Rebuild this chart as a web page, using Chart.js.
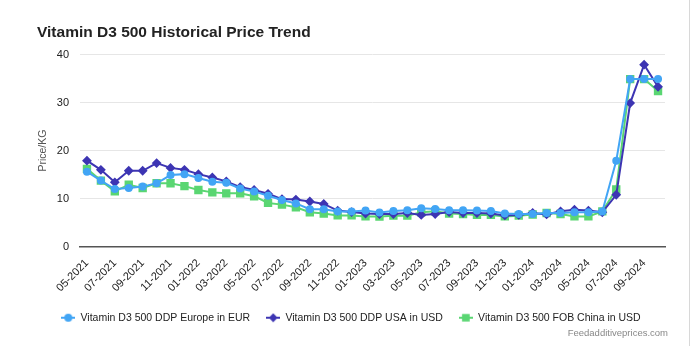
<!DOCTYPE html>
<html>
<head>
<meta charset="utf-8">
<script src="https://cdn.jsdelivr.net/npm/chart.js@4"></script>
<style>
  html, body { margin: 0; padding: 0; background: #fff; }
  #wrap { position: relative; width: 689px; height: 346px; border-right: 1px solid #d8d8d8; }
  #note {
    position: absolute; right: 21px; top: 327px;
    font: 9.5px "Liberation Sans", Arial, sans-serif; color: #888;
  }
</style>
</head>
<body>
<div id="wrap">
  <canvas id="priceChart" width="689" height="346"></canvas>
  <div id="note">Feedadditiveprices.com</div>
</div>
<script>
const months = [
  "05-2021", "06-2021", "07-2021", "08-2021", "09-2021", "10-2021", "11-2021", "12-2021",
  "01-2022", "02-2022", "03-2022", "04-2022", "05-2022", "06-2022", "07-2022", "08-2022",
  "09-2022", "10-2022", "11-2022", "12-2022", "01-2023", "02-2023", "03-2023", "04-2023",
  "05-2023", "06-2023", "07-2023", "08-2023", "09-2023", "10-2023", "11-2023", "12-2023",
  "01-2024", "02-2024", "03-2024", "04-2024", "05-2024", "06-2024", "07-2024", "08-2024",
  "09-2024", "10-2024"
];

const europeEur = [
  15.6, 13.75, 12.0, 12.2, 12.5, 13.2, 14.9, 15.1, 14.3, 13.5, 13.3, 12.1,
  11.5, 10.6, 9.7, 9.0, 7.8, 7.8, 7.3, 7.3, 7.5, 7.1, 7.4, 7.6,
  8.0, 7.85, 7.6, 7.6, 7.5, 7.4, 6.9, 6.8, 6.8, 7.0, 7.0, 7.15,
  7.15, 7.3, 17.9, 34.9, 34.9, 34.9
];

const usaUsd = [
  17.9, 16.0, 13.4, 15.8, 15.8, 17.4, 16.4, 16.0, 15.1, 14.4, 13.6, 12.4,
  11.8, 11.0, 9.9, 9.8, 9.4, 8.9, 7.5, 7.2, 6.9, 6.8, 6.8, 7.0,
  6.6, 6.8, 7.2, 7.0, 7.0, 6.9, 6.5, 6.6, 7.0, 6.7, 7.35, 7.7,
  7.5, 7.15, 10.8, 29.9, 37.9, 33.3
];

const chinaUsd = [
  16.2, 13.75, 11.5, 12.9, 12.2, 13.2, 13.2, 12.6, 11.8, 11.3, 11.1, 11.1,
  10.5, 9.1, 8.75, 8.2, 7.15, 6.9, 6.5, 6.5, 6.3, 6.25, 6.45, 6.45,
  7.15, 7.35, 6.9, 6.8, 6.6, 6.6, 6.3, 6.45, 6.7, 7.0, 6.8, 6.3,
  6.3, 7.35, 11.9, 34.9, 34.9, 32.4
];

const yTicks = [0, 10, 20, 30, 40];

Chart.defaults.font.family = '"Liberation Sans", Arial, sans-serif';
Chart.defaults.color = "#222";

// small line + marker icon for the legend
function legendIcon(color, style, r) {
  const c = document.createElement("canvas");
  c.width = 14;
  c.height = 10;
  const g = c.getContext("2d");
  g.strokeStyle = color;
  g.fillStyle = color;
  g.lineWidth = 2;
  g.beginPath();
  g.moveTo(0, 5);
  g.lineTo(14, 5);
  g.stroke();
  Chart.helpers.drawPoint(g, { pointStyle: style, radius: r, borderWidth: 1 }, 7, 5);
  g.fill();
  return c;
}

const ctx = document.getElementById("priceChart").getContext("2d");

new Chart(ctx, {
  type: "line",
  data: {
    labels: months,
    datasets: [
      {
        label: "Vitamin D3 500 DDP Europe in EUR",
        data: europeEur,
        borderColor: "#42a5f5",
        backgroundColor: "#42a5f5",
        borderWidth: 2,
        pointStyle: "circle",
        pointRadius: 3,
        tension: 0
      },
      {
        label: "Vitamin D3 500 DDP USA in USD",
        data: usaUsd,
        borderColor: "#3d35b3",
        backgroundColor: "#3d35b3",
        borderWidth: 2,
        pointStyle: "rectRot",
        pointRadius: 3.5,
        tension: 0
      },
      {
        label: "Vitamin D3 500 FOB China in USD",
        data: chinaUsd,
        borderColor: "#5ad672",
        backgroundColor: "#5ad672",
        borderWidth: 2,
        pointStyle: "rect",
        pointRadius: 4.5,
        tension: 0
      }
    ]
  },
  options: {
    responsive: false,
    animation: false,
    layout: { padding: { left: 37, right: 24, top: 0, bottom: 13 } },
    plugins: {
      title: {
        display: true,
        text: "Vitamin D3 500 Historical Price Trend",
        align: "start",
        color: "#222",
        font: { size: 15.5, weight: "bold" },
        padding: { top: 23, bottom: 13 }
      },
      legend: {
        position: "bottom",
        labels: {
          usePointStyle: true,
          pointStyleWidth: 14,
          boxHeight: 10,
          padding: 16,
          font: { size: 10.5 },
          color: "#222",
          generateLabels: (chart) => chart.data.datasets.map((ds, i) => ({
            text: ds.label,
            datasetIndex: i,
            fillStyle: ds.backgroundColor,
            strokeStyle: ds.borderColor,
            lineWidth: 0,
            hidden: false,
            fontColor: "#222",
            pointStyle: legendIcon(ds.borderColor, ds.pointStyle, ds.pointStyle === "rect" ? 4 : 3)
          }))
        }
      },
      tooltip: { enabled: false }
    },
    scales: {
      x: {
        offset: true,
        grid: { display: false },
        border: { color: "#555", width: 1.5 },
        ticks: {
          autoSkip: false,
          maxRotation: 45,
          minRotation: 45,
          padding: 2,
          font: { size: 11 },
          color: "#222",
          callback: (v, i) => (i % 2 === 0 ? months[i] : "")
        }
      },
      y: {
        min: yTicks[0],
        max: yTicks[yTicks.length - 1],
        afterFit: (s) => { s.width = 43; },
        grid: { color: "#e6e6e6", drawTicks: false },
        border: { display: false },
        ticks: { stepSize: 10, padding: 11, font: { size: 11 }, color: "#222" },
        title: { display: true, text: "Price/KG", color: "#555", font: { size: 10.5 }, padding: { top: 0, bottom: 0, left: 3 } }
      }
    }
  }
});
</script>
</body>
</html>
